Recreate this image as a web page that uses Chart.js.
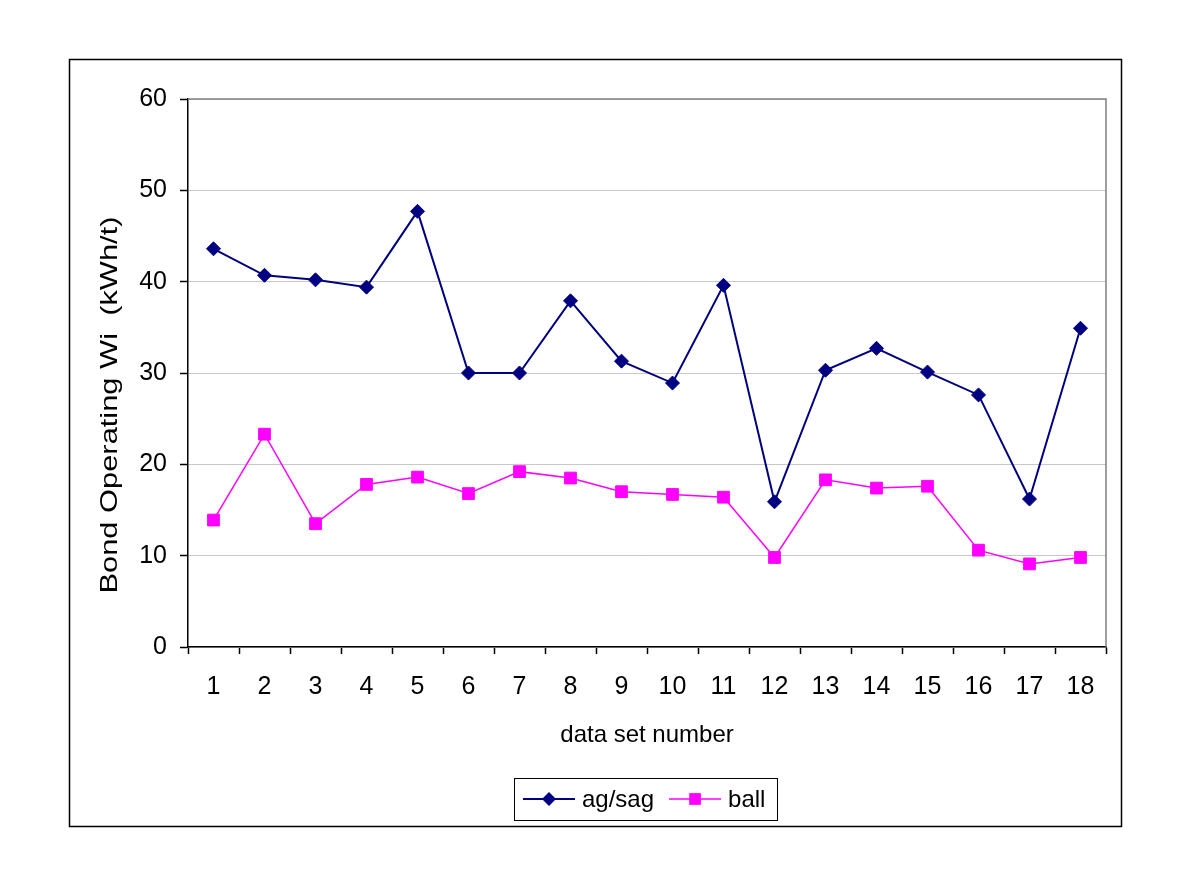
<!DOCTYPE html>
<html>
<head>
<meta charset="utf-8">
<script src="https://cdn.jsdelivr.net/npm/chart.js@4.4.0/dist/chart.umd.min.js"></script>
<style>
  html, body { margin: 0; padding: 0; background: #fff; }
  #wrap { width: 1180px; height: 874px; }
</style>
</head>
<body>
<div id="wrap"><canvas id="chart" width="1180" height="874"></canvas></div>
<script>
// data
const categories = ['1','2','3','4','5','6','7','8','9','10','11','12','13','14','15','16','17','18'];
const agSag = [43.6, 40.7, 40.2, 39.4, 47.7, 30.0, 30.0, 37.9, 31.3, 28.9, 39.6, 15.9, 30.3, 32.7, 30.1, 27.6, 16.2, 34.9];
const ball = [13.9, 23.3, 13.5, 17.8, 18.6, 16.8, 19.2, 18.5, 17.0, 16.7, 16.4, 9.8, 18.3, 17.4, 17.6, 10.6, 9.1, 9.8];
const yTicks = [0, 10, 20, 30, 40, 50, 60];

const FONT = '"Liberation Sans", Arial, sans-serif';

// white bg, outer frame, plot border top/right, y title, legend
const decor = {
  id: 'decor',
  beforeDraw(chart) {
    const ctx = chart.ctx;
    ctx.save();
    ctx.fillStyle = '#fff';
    ctx.fillRect(0, 0, chart.width, chart.height);
    ctx.restore();
  },
  beforeDatasetsDraw(chart) {
    const {ctx, chartArea: a} = chart;
    ctx.save();
    ctx.strokeStyle = '#808080';
    ctx.lineWidth = 1.5;
    ctx.beginPath();
    ctx.moveTo(a.left, a.top);
    ctx.lineTo(a.right, a.top);
    ctx.lineTo(a.right, a.bottom);
    ctx.stroke();
    ctx.restore();
  },
  afterDraw(chart) {
    const ctx = chart.ctx;
    ctx.save();
    // outer frame
    ctx.strokeStyle = '#000';
    ctx.lineWidth = 1.5;
    ctx.strokeRect(69.5, 59.5, 1052, 767);

    // y axis title (stretched along its length like the original)
    ctx.fillStyle = '#000';
    ctx.font = '24px ' + FONT;
    ctx.textAlign = 'center';
    ctx.textBaseline = 'middle';
    const title = 'Bond Operating Wi  (kWh/t)';
    const w = ctx.measureText(title).width;
    ctx.translate(110, 405);
    ctx.rotate(-Math.PI / 2);
    ctx.scale(377 / w, 1);
    ctx.fillText(title, 0, 0);
    ctx.restore();

    // legend
    ctx.save();
    ctx.strokeStyle = '#000';
    ctx.lineWidth = 1;
    ctx.strokeRect(514.5, 778.5, 263, 42);
    ctx.font = '24px ' + FONT;
    ctx.textBaseline = 'middle';
    ctx.textAlign = 'left';
    let x = 523;
    const y = 799;
    chart.data.datasets.forEach((ds) => {
      ctx.strokeStyle = ds.borderColor;
      ctx.lineWidth = ds.borderWidth;
      ctx.beginPath();
      ctx.moveTo(x, y);
      ctx.lineTo(x + 52, y);
      ctx.stroke();
      ctx.fillStyle = ds.backgroundColor;
      ctx.beginPath();
      if (ds.pointStyle === 'rectRot') {
        const r = ds.pointRadius;
        ctx.moveTo(x + 26 - r, y);
        ctx.lineTo(x + 26, y - r);
        ctx.lineTo(x + 26 + r, y);
        ctx.lineTo(x + 26, y + r);
        ctx.closePath();
      } else {
        const s = Math.SQRT1_2 * ds.pointRadius;
        ctx.rect(x + 26 - s, y - s, 2 * s, 2 * s);
      }
      ctx.fill();
      ctx.fillStyle = '#000';
      ctx.fillText(ds.label, x + 59, y + 1);
      x += 59 + ctx.measureText(ds.label).width + 15;
    });
    ctx.restore();
  }
};

new Chart(document.getElementById('chart'), {
  type: 'line',
  data: {
    labels: categories,
    datasets: [
      {
        label: 'ag/sag',
        data: agSag,
        borderColor: '#000080',
        backgroundColor: '#000080',
        borderWidth: 2,
        pointStyle: 'rectRot',
        pointRadius: 7,
        pointBorderWidth: 1,
        tension: 0
      },
      {
        label: 'ball',
        data: ball,
        borderColor: '#ff00ff',
        backgroundColor: '#ff00ff',
        borderWidth: 1.5,
        pointStyle: 'rect',
        pointRadius: 8.3,
        pointBorderWidth: 1,
        tension: 0
      }
    ]
  },
  options: {
    responsive: false,
    animation: false,
    layout: { padding: { left: 80, top: 99, right: 74, bottom: 48 } },
    plugins: { legend: { display: false }, tooltip: { enabled: false } },
    scales: {
      x: {
        type: 'category',
        offset: true,
        grid: { offset: true, drawOnChartArea: false, drawTicks: true, tickLength: 7, tickColor: '#000', tickWidth: 1.5 },
        border: { color: '#000', width: 1.5 },
        ticks: { color: '#000', padding: 18, maxRotation: 0, autoSkip: false, font: { family: FONT, size: 25 } },
        title: { display: true, text: 'data set number', color: '#000', font: { family: FONT, size: 24 }, padding: { top: 0, bottom: 76 } },
        afterFit(scale) { scale.height = 179; }
      },
      y: {
        min: 0,
        max: 60,
        afterBuildTicks(scale) { scale.ticks = yTicks.map(v => ({ value: v })); },
        grid: { color: '#c8c8c8', lineWidth: 1, drawTicks: true, tickLength: 8, tickColor: '#000', tickWidth: 1.5 },
        border: { color: '#000', width: 1.5 },
        ticks: { color: '#000', padding: 13, font: { family: FONT, size: 25 } },
        afterFit(scale) { scale.width = 108; }
      }
    }
  },
  plugins: [decor]
});
</script>
</body>
</html>
